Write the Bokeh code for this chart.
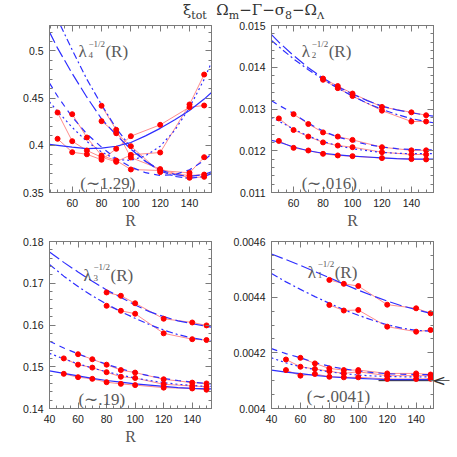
from bokeh.plotting import figure
from bokeh.layouts import gridplot, column
from bokeh.models import (Range1d, FixedTicker, LinearAxis, Label, Div,
                          CustomJSTickFormatter)
from bokeh.embed import file_html
from bokeh.resources import INLINE
import numpy as np

# ---------------- data ----------------
R_PTS = [50, 60, 70, 80, 90, 100, 120, 140, 150]
R_PTS_S = [60, 70, 80, 90, 100, 120, 140, 150]
R_PTS_TOP = [80, 90, 100, 120, 140, 150]

# lambda_4 (top left)
TL_R_CURVE = [44.5, 50, 60, 70, 80, 90, 100, 110, 120, 130, 140, 150, 155]
TL_R_CURVE_DD = [52, 60, 70, 80, 90, 100, 110, 120, 130, 140, 150, 155]
TL_FIT_SOLID = [0.401, 0.400, 0.398, 0.3965, 0.397, 0.399, 0.403, 0.410, 0.418, 0.427, 0.437, 0.449, 0.456]
TL_FIT_DOT = [0.446, 0.436, 0.419, 0.404, 0.393, 0.385, 0.384, 0.389, 0.399, 0.416, 0.440, 0.470, 0.488]
TL_FIT_SHORT = [0.466, 0.452, 0.430, 0.412, 0.398, 0.386, 0.377, 0.371, 0.368, 0.369, 0.374, 0.384, 0.391]
TL_FIT_LONG = [0.520, 0.503, 0.476, 0.451, 0.428, 0.411, 0.396, 0.383, 0.374, 0.369, 0.367, 0.369, 0.372]
TL_FIT_DD = [0.527, 0.501, 0.470, 0.443, 0.418, 0.398, 0.383, 0.373, 0.367, 0.365, 0.367, 0.370]
TL_PT_SOLID = [0.4069, 0.3927, 0.3905, 0.3847, 0.3963, 0.4097, 0.4217, 0.4404, 0.4422]
TL_PT_DOT = [0.4348, 0.4044, 0.3945, 0.3874, 0.3825, 0.3899, 0.3924, 0.4433, 0.4750]
TL_PT_SHORT = [0.4330, 0.4083, 0.3892, 0.3839, 0.3744, 0.3733, 0.3708, 0.3874]
TL_PT_LONG = [0.4256, 0.4128, 0.3991, 0.3716, 0.3680, 0.3690]
TL_PT_DD = [0.4419, 0.4164, 0.3871, 0.3748, 0.3656, 0.3666]

# lambda_2 (top right)
TR_R_CURVE = [45, 50, 60, 70, 80, 90, 100, 110, 120, 130, 140, 150, 155]
TR_FIT_LONG = [0.01478, 0.01460, 0.01428, 0.01399, 0.01374, 0.01353, 0.01336, 0.01320, 0.01307, 0.01298, 0.01291, 0.01285, 0.01283]
TR_FIT_DD = [0.01464, 0.01449, 0.01420, 0.01394, 0.01371, 0.01350, 0.01331, 0.01314, 0.01299, 0.01287, 0.01277, 0.01270, 0.01267]
TR_FIT_SHORT = [0.01320, 0.01309, 0.01289, 0.01266, 0.01247, 0.01233, 0.01223, 0.01215, 0.01209, 0.01205, 0.01203, 0.01202, 0.01202]
TR_FIT_DOT = [0.01280, 0.01271, 0.01252, 0.01235, 0.01222, 0.01212, 0.01205, 0.01200, 0.01196, 0.01194, 0.01193, 0.01193, 0.01193]
TR_FIT_SOLID = [0.01225, 0.01221, 0.01209, 0.01200, 0.01194, 0.01190, 0.01187, 0.01185, 0.01183, 0.01181, 0.01180, 0.01180, 0.01180]
TR_PT_LONG = [0.01373, 0.01355, 0.01337, 0.01305, 0.01292, 0.01285]
TR_PT_DD = [0.01370, 0.01350, 0.01331, 0.01296, 0.01270, 0.01270]
TR_PT_SHORT = [0.012877, 0.01264, 0.01244, 0.01234, 0.01226, 0.012085, 0.01201, 0.01201]
TR_PT_DOT = [0.012774, 0.012497, 0.01234, 0.01220, 0.012125, 0.012085, 0.011966, 0.01191, 0.01191]
TR_PT_SOLID = [0.012236, 0.012069, 0.012006, 0.011927, 0.011887, 0.011871, 0.011824, 0.011800, 0.011792]

# lambda_3 (bottom left)
BL_R_CURVE = [40, 50, 60, 70, 80, 90, 100, 110, 120, 130, 140, 150, 153.5]
BL_FIT_LONG = [0.1775, 0.1750, 0.1727, 0.1705, 0.1684, 0.1666, 0.1648, 0.1632, 0.1620, 0.1610, 0.1603, 0.1597, 0.1595]
BL_FIT_DD = [0.1745, 0.1717, 0.1692, 0.1670, 0.1650, 0.1632, 0.1616, 0.1601, 0.1588, 0.1577, 0.1569, 0.1563, 0.1561]
BL_FIT_SHORT = [0.1561, 0.1545, 0.1531, 0.1518, 0.1506, 0.1495, 0.1486, 0.1478, 0.1472, 0.1467, 0.1463, 0.1460, 0.1459]
BL_FIT_DOT = [0.1532, 0.1519, 0.1507, 0.1497, 0.1488, 0.1480, 0.1473, 0.1467, 0.1462, 0.1458, 0.1455, 0.1453, 0.1453]
BL_FIT_SOLID = [0.1490, 0.1484, 0.1478, 0.1472, 0.1467, 0.1463, 0.1459, 0.1456, 0.1453, 0.1450, 0.1448, 0.1447, 0.1447]
BL_PT_LONG = [0.1678, 0.1670, 0.1652, 0.1615, 0.1606, 0.1599]
BL_PT_DD = [0.1646, 0.1634, 0.1627, 0.1580, 0.1566, 0.1564]
BL_PT_SHORT = [0.1530, 0.1518, 0.1505, 0.1492, 0.1486, 0.1470, 0.1462, 0.1460]
BL_PT_DOT = [0.1520, 0.1505, 0.1498, 0.1487, 0.1476, 0.1473, 0.1458, 0.1454, 0.1452]
BL_PT_SOLID = [0.1483, 0.1475, 0.1471, 0.1463, 0.1459, 0.1456, 0.1450, 0.1448, 0.1445]

# lambda_1 (bottom right)
BR_R_CURVE = [40, 50, 60, 70, 80, 90, 100, 110, 120, 130, 140, 150, 152]
BR_FIT_LONG = [0.004555, 0.004535, 0.004514, 0.004492, 0.004470, 0.004447, 0.004425, 0.004405, 0.004386, 0.004369, 0.004355, 0.004342, 0.004340]
BR_FIT_DD = [0.004485, 0.004455, 0.004428, 0.004402, 0.004378, 0.004355, 0.004335, 0.004317, 0.004301, 0.004289, 0.004281, 0.004278, 0.004278]
BR_FIT_SHORT = [0.004215, 0.004197, 0.004182, 0.004165, 0.004152, 0.004142, 0.004135, 0.004129, 0.004125, 0.004123, 0.004122, 0.004122, 0.004122]
BR_FIT_DOT = [0.004182, 0.004164, 0.004150, 0.004140, 0.004132, 0.004125, 0.004120, 0.004117, 0.004115, 0.004114, 0.004113, 0.004114, 0.004114]
BR_FIT_SOLID = [0.004138, 0.004131, 0.004125, 0.004119, 0.004114, 0.004111, 0.004108, 0.004106, 0.004104, 0.004104, 0.004104, 0.004104, 0.004104]
BR_PT_LONG = [0.004462, 0.004448, 0.004440, 0.004373, 0.004360, 0.004342]
BR_PT_DD = [0.004372, 0.004352, 0.004354, 0.004294, 0.004276, 0.004282]
BR_PT_SHORT = [0.004182, 0.004162, 0.004144, 0.004138, 0.004138, 0.004126, 0.004126, 0.004122]
BR_PT_DOT = [0.004176, 0.004150, 0.004142, 0.004134, 0.004126, 0.004132, 0.004118, 0.004118, 0.004118]
BR_PT_SOLID = [0.004138, 0.004118, 0.004124, 0.004114, 0.004112, 0.004112, 0.004106, 0.004106, 0.004107]
BR_TRUE_R = [114, 152]
BR_TRUE_VALUE = 0.00410

# ticks
X_TICKS_TOP = [60, 80, 100, 120, 140]
X_TICKS_BOT = [40, 60, 80, 100, 120, 140]
TL_Y_TICKS = [0.35, 0.4, 0.45, 0.5]
TL_Y_LABELS = ["0.35", "0.4", "0.45", "0.5"]
TR_Y_TICKS = [0.011, 0.012, 0.013, 0.014, 0.015]
TR_Y_LABELS = ["0.011", "0.012", "0.013", "0.014", "0.015"]
BL_Y_TICKS = [0.14, 0.15, 0.16, 0.17, 0.18]
BL_Y_LABELS = ["0.14", "0.15", "0.16", "0.17", "0.18"]
BR_Y_TICKS = [0.004, 0.0042, 0.0044, 0.0046]
BR_Y_LABELS = ["0.004", "0.0042", "0.0044", "0.0046"]

# ---------------- styles ----------------
BLUE = "#2e2eff"
RED = "#ff0000"
PINK = "#ff8c8c"
FRAME = "#7a7a7a"
GREY_TXT = "#5a5a5a"
DASH = {"solid": "solid", "long": "12 4", "dd": "7 3 2 3", "short": "6 5", "dot": "2 3"}
SERIF = "Liberation Serif"
SANS = "Liberation Sans"


def style_axis(ax, ticks, minor, labels=None, show_labels=True):
    ax.ticker = FixedTicker(ticks=ticks, minor_ticks=minor)
    ax.axis_line_color = FRAME
    ax.major_tick_line_color = FRAME
    ax.minor_tick_line_color = FRAME
    ax.major_tick_in = 6
    ax.major_tick_out = 0
    ax.minor_tick_in = 3
    ax.minor_tick_out = 0
    if show_labels:
        if labels is not None:
            ax.major_label_overrides = {t: l for t, l in zip(ticks, labels)}
        ax.major_label_text_font = SANS
        ax.major_label_text_font_size = "10.5px"
        ax.major_label_text_color = "#222222"
        ax.major_label_standoff = 6
    else:
        ax.formatter = CustomJSTickFormatter(code="return ''")
        ax.major_label_standoff = 0


def make_panel(width, height, xr, yr, xticks, yticks, ylabels, xminor, yminor,
               borders, xlabel):
    p = figure(width=width, height=height, x_range=Range1d(*xr), y_range=Range1d(*yr),
               output_backend="svg", toolbar_location=None,
               min_border_left=borders[0], min_border_right=borders[1],
               min_border_top=borders[2], min_border_bottom=borders[3])
    p.outline_line_color = FRAME
    p.grid.visible = False
    style_axis(p.xaxis[0], xticks, xminor, [str(t) for t in xticks])
    style_axis(p.yaxis[0], yticks, yminor, ylabels)
    if xlabel:
        p.xaxis[0].axis_label = "R"
        p.xaxis[0].axis_label_text_font = SERIF
        p.xaxis[0].axis_label_text_font_style = "normal"
        p.xaxis[0].axis_label_text_font_size = "16px"
        p.xaxis[0].axis_label_text_color = "#555555"
        p.xaxis[0].axis_label_standoff = 2
    top = LinearAxis()
    style_axis(top, xticks, xminor, show_labels=False)
    p.add_layout(top, "above")
    right = LinearAxis()
    style_axis(right, yticks, yminor, show_labels=False)
    p.add_layout(right, "right")
    return p


def add_series(p, fits, pts):
    for r, v in pts:
        p.line(r, v, line_color=PINK, line_width=1)
    for key, r, v in fits:
        p.line(r, v, line_color=BLUE, line_width=1.2, line_dash=DASH[key])
    for r, v in pts:
        p.scatter(r, v, size=5, fill_color=RED, line_color=RED)


def add_lambda(p, x, y, sub, x2, y2, note):
    kw = dict(text_font=SERIF, text_color=GREY_TXT, text_baseline="alphabetic")
    p.add_layout(Label(x=x, y=y, text="λ", text_font_size="17px", **kw))
    p.add_layout(Label(x=x, y=y, x_offset=10, y_offset=-3, text=sub, text_font_size="9px", **kw))
    p.add_layout(Label(x=x, y=y, x_offset=10, y_offset=8, text="−1/2", text_font_size="9px", **kw))
    p.add_layout(Label(x=x, y=y, x_offset=27, text="(R)", text_font_size="17px", **kw))
    p.add_layout(Label(x=x2, y=y2, text=note, text_font_size="17px", **kw))


X_MINOR = list(np.arange(40, 156, 5))

# top-left
tl = make_panel(229, 216, (44.5, 155), (0.35, 0.527), X_TICKS_TOP, TL_Y_TICKS, TL_Y_LABELS,
                X_MINOR, list(np.round(np.arange(0.35, 0.53, 0.01), 3)), (49, 18, 5, 44), True)
add_series(tl,
           [("solid", TL_R_CURVE, TL_FIT_SOLID), ("dot", TL_R_CURVE, TL_FIT_DOT),
            ("short", TL_R_CURVE, TL_FIT_SHORT), ("long", TL_R_CURVE, TL_FIT_LONG),
            ("dd", TL_R_CURVE_DD, TL_FIT_DD)],
           [(R_PTS, TL_PT_SOLID), (R_PTS, TL_PT_DOT), (R_PTS_S, TL_PT_SHORT),
            (R_PTS_TOP, TL_PT_LONG), (R_PTS_TOP, TL_PT_DD)])
add_lambda(tl, 64.2, 0.4994, "4", 65.5, 0.3595, "(∼1.29)")

# top-right
tr = make_panel(222, 216, (45, 155), (0.011, 0.015), X_TICKS_TOP, TR_Y_TICKS, TR_Y_LABELS,
                X_MINOR, list(np.round(np.arange(0.011, 0.01501, 0.0002), 5)), (42, 18, 5, 44), True)
add_series(tr,
           [("solid", TR_R_CURVE, TR_FIT_SOLID), ("dot", TR_R_CURVE, TR_FIT_DOT),
            ("short", TR_R_CURVE, TR_FIT_SHORT), ("long", TR_R_CURVE, TR_FIT_LONG),
            ("dd", TR_R_CURVE, TR_FIT_DD)],
           [(R_PTS, TR_PT_SOLID), (R_PTS, TR_PT_DOT), (R_PTS_S, TR_PT_SHORT),
            (R_PTS_TOP, TR_PT_LONG), (R_PTS_TOP, TR_PT_DD)])
add_lambda(tr, 65.5, 0.014377, "2", 65.6, 0.011216, "(∼.016)")

# bottom-left
bl = make_panel(229, 212, (40, 153.5), (0.14, 0.18), X_TICKS_BOT, BL_Y_TICKS, BL_Y_LABELS,
                X_MINOR, list(np.round(np.arange(0.14, 0.1801, 0.002), 4)), (49, 18, 5, 40), True)
add_series(bl,
           [("solid", BL_R_CURVE, BL_FIT_SOLID), ("dot", BL_R_CURVE, BL_FIT_DOT),
            ("short", BL_R_CURVE, BL_FIT_SHORT), ("long", BL_R_CURVE, BL_FIT_LONG),
            ("dd", BL_R_CURVE, BL_FIT_DD)],
           [(R_PTS, BL_PT_SOLID), (R_PTS, BL_PT_DOT), (R_PTS_S, BL_PT_SHORT),
            (R_PTS_TOP, BL_PT_LONG), (R_PTS_TOP, BL_PT_DD)])
add_lambda(bl, 63.8, 0.1719, "3", 60.3, 0.14216, "(∼.19)")

# bottom-right
br = make_panel(222, 212, (40, 152), (0.004, 0.0046), X_TICKS_BOT, BR_Y_TICKS, BR_Y_LABELS,
                X_MINOR, list(np.round(np.arange(0.004, 0.004601, 0.00005), 6)), (42, 18, 5, 40), False)
br.line(BR_TRUE_R, [BR_TRUE_VALUE, BR_TRUE_VALUE], line_color="black", line_width=0.9)
add_series(br,
           [("solid", BR_R_CURVE, BR_FIT_SOLID), ("dot", BR_R_CURVE, BR_FIT_DOT),
            ("short", BR_R_CURVE, BR_FIT_SHORT), ("long", BR_R_CURVE, BR_FIT_LONG),
            ("dd", BR_R_CURVE, BR_FIT_DD)],
           [(R_PTS, BR_PT_SOLID), (R_PTS, BR_PT_DOT), (R_PTS_S, BR_PT_SHORT),
            (R_PTS_TOP, BR_PT_LONG), (R_PTS_TOP, BR_PT_DD)])
# arrow marking the true value, drawn just outside the frame by an extra right axis
arrow_axis = LinearAxis(ticker=FixedTicker(ticks=[BR_TRUE_VALUE], minor_ticks=[]))
arrow_axis.axis_line_color = None
arrow_axis.major_tick_in = 0
arrow_axis.major_tick_out = 16
arrow_axis.major_tick_line_color = "#333333"
arrow_axis.major_tick_line_width = 0.8
arrow_axis.major_label_overrides = {BR_TRUE_VALUE: "<"}
arrow_axis.major_label_standoff = -17
arrow_axis.major_label_text_font = "DejaVu Sans"
arrow_axis.major_label_text_font_size = "16px"
arrow_axis.major_label_text_color = "#333333"
br.add_layout(arrow_axis, "right")
add_lambda(br, 65.0, 0.004489, "1", 64.3, 0.004043, "(∼.0041)")

title_html = (
    '<div style="margin-left:183px; white-space:nowrap; '
    'font-family:\'DejaVu Serif\'; font-size:15px; line-height:20px; color:#333333">'
    'ξ<sub style="font-size:11px; line-height:0">tot</sub>&nbsp; '
    'Ω<sub style="font-size:11px; line-height:0">m</sub>−Γ−σ'
    '<sub style="font-size:11px; line-height:0">8</sub>−Ω'
    '<sub style="font-size:10px; line-height:0">Λ</sub></div>'
)
title = Div(text=title_html, width=451, height=20, margin=(0, 0, 0, 0))

grid = gridplot([[tl, tr], [bl, br]], toolbar_location=None)
layout = column(title, grid, spacing=0)

open("out.html", "w").write(file_html(layout, INLINE))
